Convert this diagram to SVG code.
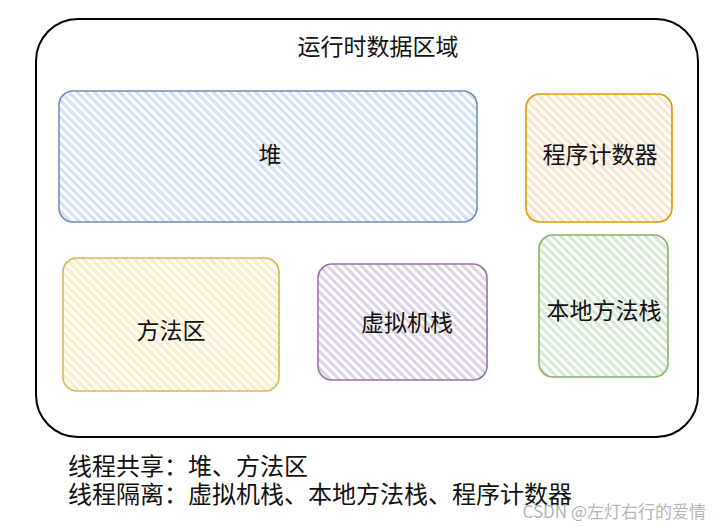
<svg xmlns="http://www.w3.org/2000/svg" width="720" height="527" viewBox="0 0 720 527">
<style>
text{font-family:"Noto Sans CJK SC","Noto Sans",sans-serif;fill:#111;}
.lbl{font-size:23px;text-anchor:middle;dominant-baseline:central;}
.box{stroke-width:1.6;}
</style>
<defs>
<pattern id="hb" width="6" height="6" patternUnits="userSpaceOnUse" patternTransform="rotate(-45)"><rect width="6" height="6" fill="#fff"/><rect width="3" height="6" fill="#d2e0f5"/></pattern>
<pattern id="ho" width="6" height="6" patternUnits="userSpaceOnUse" patternTransform="rotate(-45)"><rect width="6" height="6" fill="#fff"/><rect width="3" height="6" fill="#fce3ca"/></pattern>
<pattern id="hy" width="6" height="6" patternUnits="userSpaceOnUse" patternTransform="rotate(-45)"><rect width="6" height="6" fill="#fff"/><rect width="3" height="6" fill="#fcedc2"/></pattern>
<pattern id="hp" width="6" height="6" patternUnits="userSpaceOnUse" patternTransform="rotate(-45)"><rect width="6" height="6" fill="#fff"/><rect width="3" height="6" fill="#ddd2e3"/></pattern>
<pattern id="hg" width="6" height="6" patternUnits="userSpaceOnUse" patternTransform="rotate(-45)"><rect width="6" height="6" fill="#fff"/><rect width="3" height="6" fill="#d5e8d2"/></pattern>
</defs>
<rect width="720" height="527" fill="#fff"/>
<g id="outer">
<rect x="36" y="19" width="662" height="418" rx="42" fill="none" stroke="#000" stroke-width="2"/>
<text x="378" y="45" class="lbl">运行时数据区域</text>
</g>
<g id="heap">
<rect class="box" x="59" y="91" width="418" height="131" rx="14" fill="url(#hb)" stroke="#6c8ebf"/>
<text x="270" y="153" class="lbl">堆</text>
</g>
<g id="pc">
<rect class="box" x="526" y="94" width="146" height="128" rx="14" fill="url(#ho)" stroke="#d79b00"/>
<text x="600" y="153" class="lbl">程序计数器</text>
</g>
<g id="method">
<rect class="box" x="63" y="258" width="216" height="133" rx="14" fill="url(#hy)" stroke="#d6b656"/>
<text x="171" y="329" class="lbl">方法区</text>
</g>
<g id="jvmstack">
<rect class="box" x="318" y="264" width="169" height="116" rx="14" fill="url(#hp)" stroke="#9673a6"/>
<text x="407" y="321" class="lbl">虚拟机栈</text>
</g>
<g id="native">
<rect class="box" x="539" y="235" width="129" height="142" rx="14" fill="url(#hg)" stroke="#82b366"/>
<text x="604" y="309" class="lbl">本地方法栈</text>
</g>
<g id="connectors"></g>
<text x="68" y="475" font-size="24">线程共享：堆、方法区</text>
<text x="68" y="503" font-size="24">线程隔离：虚拟机栈、本地方法栈、程序计数器</text>
<text x="706" y="518" font-size="17" text-anchor="end" style="fill:#b5b5b5">CSDN @左灯右行的爱情</text>
</svg>
